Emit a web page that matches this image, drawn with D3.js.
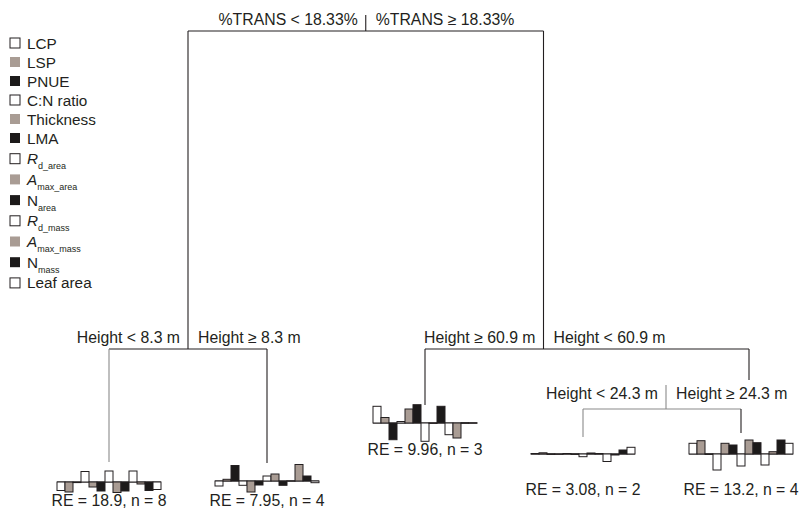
<!DOCTYPE html>
<meta charset="utf-8">
<script src="https://d3js.org/d3.v7.min.js"></script>
<style>
  body { margin: 0; background: #fff; }
  text { font-family: Arial, "Liberation Sans", sans-serif; fill: #231f20; }
</style>
<div id="chart"></div>
<script>
// traits in legend / bar order
var traits = ["LCP", "LSP", "PNUE", "C:N ratio", "Thickness", "LMA", "Rd_area",
              "Amax_area", "N_area", "Rd_mass", "Amax_mass", "N_mass", "Leaf area"];
var traitGroup = ["w", "g", "k", "w", "g", "k", "w", "g", "k", "w", "g", "k", "w"];
// legend label parts: main text, italic main?, subscript
var legendMain = ["LCP", "LSP", "PNUE", "C:N ratio", "Thickness", "LMA", "R", "A", "N", "R", "A", "N", "Leaf area"];
var legendItalic = [0, 0, 0, 0, 0, 0, 1, 1, 0, 1, 1, 0, 0];
var legendSub = ["", "", "", "", "", "", "d_area", "max_area", "area", "d_mass", "max_mass", "mass", ""];

// leaves, left to right
var leafNames = ["L1", "L2", "L3", "L4", "L5"];
var leafRE = ["18.9", "7.95", "9.96", "3.08", "13.2"];
var leafN = [8, 4, 3, 2, 4];
// mean standardized trait values at each leaf
var leaf1 = [-0.85, -1.0, -0.05, 1.05, -0.5, -0.9, 1.1, -1.05, -0.9, 1.1, -0.2, -0.85, -0.75];
var leaf2 = [-0.5, 0.17, 1.55, -0.43, -1.1, -0.4, 0.5, 0.7, -0.43, 0.03, 1.65, 0.5, -0.17];
var leaf3 = [1.67, 0.55, -1.67, 0.15, 1.4, 1.83, -1.83, 0.02, 1.67, -1.17, -1.5, 0.03, 0.03];
var leaf4 = [0.05, 0.12, 0.02, 0.02, 0.05, 0.02, -0.27, 0.1, 0.05, -0.75, -0.1, 0.4, 0.67];
var leaf5 = [1.07, 1.33, 0.02, -1.6, 1.07, 0.9, -1.2, 1.4, 1.13, -1.1, 0.23, 1.4, 1.07];
var leafValues = [leaf1, leaf2, leaf3, leaf4, leaf5];

// splits: label on the left branch, label on the right branch
var splitLeft = ["%TRANS < 18.33%", "Height < 8.3 m", "Height \u2265 60.9 m", "Height < 24.3 m"];
var splitRight = ["%TRANS \u2265 18.33%", "Height \u2265 8.3 m", "Height < 60.9 m", "Height \u2265 24.3 m"];

var fills = { w: "#ffffff", g: "#a99c94", k: "#1c1a1a" };
var ink = "#231f20", soft = "#8a8a8a";

var width = 799, height = 517;
var svg = d3.select("#chart").append("svg")
  .attr("width", width).attr("height", height);

// ---- tree layout ----
var x = d3.scalePoint().domain(leafNames).range([109, 741]);
var nodeY = { root: 31, n1: 349, n2: 349, n3: 409 };
var n1x = (x("L1") + x("L2")) / 2;
var n3x = (x("L4") + x("L5")) / 2;
var n2x = (x("L3") + n3x) / 2;
var rootx = (n1x + n2x) / 2;

var leafBase = [482, 481, 423, 454, 454];
var leafText = [506, 506, 455, 495, 495];

function line(x1, y1, x2, y2, col) {
  svg.append("line").attr("x1", x1).attr("y1", y1).attr("x2", x2).attr("y2", y2)
    .attr("stroke", col || ink).attr("stroke-width", 1.1);
}
function splitLabels(i, cx, ty) {
  svg.append("text").attr("x", cx - 8).attr("y", ty).attr("text-anchor", "end")
    .style("font-size", "15.8px").text(splitLeft[i]);
  svg.append("text").attr("x", cx + 10).attr("y", ty)
    .style("font-size", "15.8px").text(splitRight[i]);
}

// root
line(rootx, 15, rootx, nodeY.root);
line(n1x, nodeY.root, n2x, nodeY.root);
line(n1x, nodeY.root, n1x, nodeY.n1);
line(n2x, nodeY.root, n2x, nodeY.n2);
splitLabels(0, rootx, 25);

// node 1 (left)
line(x("L1"), nodeY.n1, x("L2"), nodeY.n1);
line(x("L1"), nodeY.n1, x("L1"), leafBase[0] - 20, soft);
line(x("L2"), nodeY.n1, x("L2"), leafBase[1] - 18);
splitLabels(1, n1x, 343);

// node 2 (right)
line(x("L3"), nodeY.n2, 749, nodeY.n2);
line(x("L3"), nodeY.n2, x("L3"), leafBase[2] - 18);
line(749, nodeY.n2, 749, 380);
splitLabels(2, n2x, 343);

// node 3
line(n3x + 4, 385, n3x + 4, nodeY.n3, soft);
line(x("L4"), nodeY.n3, x("L5"), nodeY.n3, soft);
line(x("L4"), nodeY.n3, x("L4"), leafBase[3] - 17, soft);
line(x("L5"), nodeY.n3, x("L5"), leafBase[4] - 21);
splitLabels(3, n3x + 4, 399);

// ---- leaf bar charts ----
leafNames.forEach(function (name, i) {
  var cx = x(name);
  var bx = d3.scaleBand().domain(traits).range([cx - 52, cx + 52]).padding(0);
  var by = d3.scaleLinear().domain([-2, 2]).range([leafBase[i] + 20, leafBase[i] - 20]);
  var g = svg.append("g");
  g.append("line")
    .attr("x1", bx.range()[0]).attr("x2", bx.range()[1])
    .attr("y1", by(0)).attr("y2", by(0))
    .attr("stroke", ink).attr("stroke-width", 1.2);
  g.selectAll("rect")
    .data(leafValues[i])
    .enter().append("rect")
      .attr("x", function (d, j) { return bx(traits[j]); })
      .attr("width", bx.bandwidth())
      .attr("y", function (d) { return Math.min(by(d), by(0)); })
      .attr("height", function (d) { return Math.max(Math.abs(by(d) - by(0)), 0.6); })
      .attr("fill", function (d, j) { return fills[traitGroup[j]]; })
      .attr("stroke", ink).attr("stroke-width", 1);
  svg.append("text")
    .attr("x", cx).attr("y", leafText[i]).attr("text-anchor", "middle")
    .style("font-size", "15.8px")
    .text("RE = " + leafRE[i] + ", n = " + leafN[i]);
});

// ---- legend ----
var legend = svg.append("g");
traits.forEach(function (t, i) {
  var cy = 43 + i * 19 + Math.max(0, i - 5) * 1.7;
  legend.append("rect")
    .attr("x", 10).attr("y", cy - 5).attr("width", 10).attr("height", 10)
    .attr("fill", fills[traitGroup[i]])
    .attr("stroke", traitGroup[i] === "w" ? ink : "none").attr("stroke-width", 1);
  var tx = legend.append("text").attr("x", 27).attr("y", cy + 5.5).style("font-size", "15.3px");
  tx.append("tspan").style("font-style", legendItalic[i] ? "italic" : "normal").text(legendMain[i]);
  if (legendSub[i]) {
    tx.append("tspan").attr("dy", 5).style("font-size", "9px").text(legendSub[i]);
  }
});
</script>
